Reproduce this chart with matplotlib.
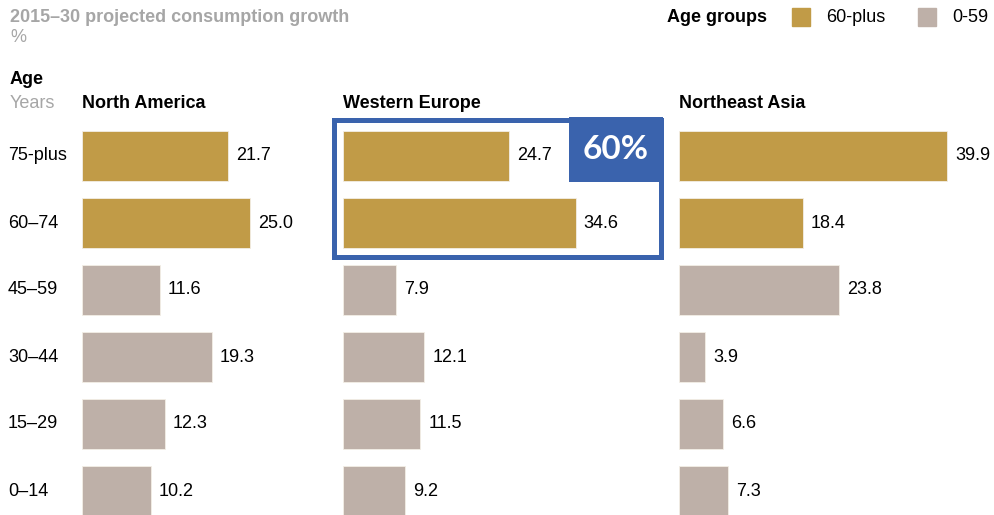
import numpy as np
import matplotlib.pyplot as plt
from matplotlib.patches import Rectangle

plt.rcParams['font.family'] = ['Liberation Sans', 'DejaVu Sans']

ages = ['75-plus', '60–74', '45–59', '30–44', '15–29', '0–14']
regions = ['North America', 'Western Europe', 'Northeast Asia']
north_america = [21.7, 25.0, 11.6, 19.3, 12.3, 10.2]
western_europe = [24.7, 34.6, 7.9, 12.1, 11.5, 9.2]
northeast_asia = [39.9, 18.4, 23.8, 3.9, 6.6, 7.3]
senior = [True, True, False, False, False, False]  # 60-plus groups

gold = '#C19B47'
taupe = '#BEB0A8'
blue = '#3A63AD'
grey = '#A6A6A6'
fs = 13

W, H = 995, 515
fig = plt.figure(figsize=(W / 100, H / 100), dpi=100)

px_per_unit = 6.72
row_px = 67
top_px = 122.5
ax_w = 300
ymax = -0.5 + (H - top_px) / row_px
lefts = [82, 343, 679]
axes = []
for left, name, vals in zip(lefts, regions, [north_america, western_europe, northeast_asia]):
    ax = fig.add_axes([left / W, 0, ax_w / W, (H - top_px) / H])
    ax.set_xlim(0, ax_w / px_per_unit)
    ax.set_ylim(ymax, -0.5)
    cols = [gold if s else taupe for s in senior]
    y = np.arange(len(vals))
    ax.barh(y, vals, height=0.75, color=cols, edgecolor='#F3EEE6', linewidth=0.6)
    for yi, v in zip(y, vals):
        ax.text(v + 1.2, yi, f'{v:.1f}', va='center', ha='left', fontsize=fs)
    ax.axis('off')
    fig.text(left / W, 1 - 103 / H, name, fontsize=fs, fontweight='bold', va='center', ha='left')
    axes.append(ax)

# row labels
for i, a in enumerate(ages):
    yy = top_px + (i + 0.5) * row_px
    fig.text(8 / W, 1 - yy / H, a, fontsize=fs, va='center', ha='left')

fig.text(10 / W, 1 - 80 / H, 'Age', fontsize=fs, fontweight='bold', va='center', ha='left')
fig.text(10 / W, 1 - 103 / H, 'Years', fontsize=fs, color=grey, va='center', ha='left')

# title
fig.text(10 / W, 1 - 17 / H, '2015–30 projected consumption growth', fontsize=fs,
         fontweight='bold', color=grey, va='center', ha='left')
fig.text(10 / W, 1 - 37 / H, '%', fontsize=fs, color=grey, va='center', ha='left')

# legend
fig.text(667 / W, 1 - 17 / H, 'Age groups', fontsize=fs, fontweight='bold', va='center', ha='left')
fig.patches.append(Rectangle((792 / W, 1 - 26 / H), 18 / W, 18 / H, transform=fig.transFigure,
                             color=gold, figure=fig))
fig.text(826 / W, 1 - 17 / H, '60-plus', fontsize=fs, va='center', ha='left')
fig.patches.append(Rectangle((918 / W, 1 - 26 / H), 18 / W, 18 / H, transform=fig.transFigure,
                             color=taupe, figure=fig))
fig.text(952 / W, 1 - 17 / H, '0-59', fontsize=fs, va='center', ha='left')

# highlight box around Western Europe 60-plus rows
ax = axes[1]
box = Rectangle((-1.34, -0.537), 47.25 + 1.34, 1.507 + 0.537, fill=False,
                edgecolor=blue, linewidth=3.6, clip_on=False)
ax.add_patch(box)
tab = Rectangle((33.6, -0.58), 47.6 - 33.6, 0.97, facecolor=blue, edgecolor='none', clip_on=False)
ax.add_patch(tab)
ax.text((33.6 + 47.6) / 2, -0.58 + 0.97 / 2, '60%', color='white', fontsize=24,
        fontweight='bold', family=['Lato', 'DejaVu Sans'], ha='center', va='center')

fig.savefig('out.png', dpi=100)
